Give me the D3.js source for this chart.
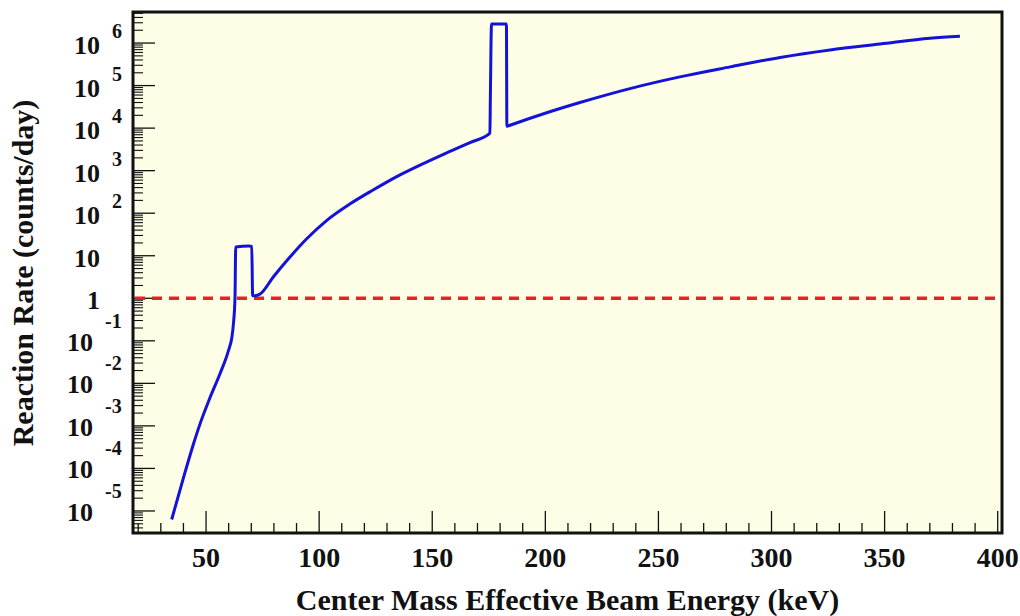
<!DOCTYPE html>
<html>
<head>
<meta charset="utf-8">
<script src="https://cdn.jsdelivr.net/npm/d3@7"></script>
<style>
  body { margin: 0; background: #fff; }
  text { font-family: "Liberation Serif", "Times New Roman", serif; font-weight: bold; fill: #111; }
</style>
</head>
<body>
<div id="chart"></div>
<script>
// values
var energy = [34.8, 40.0, 44.4, 47.3, 51.8, 56.2, 59.9, 61.4, 62.1, 62.8,
              63.1, 69.0, 70.2, 70.6, 71.7, 73.9, 79.8, 87.1, 94.5, 103.4,
              113.7, 124.0, 134.3, 144.6, 156.4, 166.7, 175.5, 175.7, 176.2, 182.8,
              183.0, 184.4, 200.6, 215.3, 237.4, 259.5, 281.7, 303.8, 325.9, 348.0,
              370.1, 383.3];
var rate = [6.3e-6, 6.0e-5, 3.7e-4, 1.1e-3, 4.7e-3, 0.017, 0.059, 0.12, 0.25, 1.05,
            16, 17, 16.5, 1.15, 1.15, 1.26, 3.2, 9.3, 25, 68,
            166, 355, 725, 1350, 2630, 4570, 7600, 54000, 2.8e6, 2.8e6,
            11000, 11700, 23000, 40000, 85000, 1.6e5, 2.75e5, 4.6e5, 6.9e5, 9.5e5,
            1.3e6, 1.45e6];
var xTicks = [50, 100, 150, 200, 250, 300, 350, 400];
var yTickExps = [-5, -4, -3, -2, -1, 0, 1, 2, 3, 4, 5, 6];
var threshold = 1;
var xDomain = [17.7, 401.9];
var yDomain = [Math.pow(10, -5.518), Math.pow(10, 6.73)];

var W = 1020, H = 616;
var box = {left: 133, right: 1002, top: 12, bottom: 533};

var svg = d3.select('#chart').append('svg')
    .attr('width', W)
    .attr('height', H);

var x = d3.scaleLinear().domain(xDomain).range([box.left, box.right]);
var y = d3.scaleLog().domain(yDomain).range([box.bottom, box.top]);

// plot background
svg.append('rect')
    .attr('x', box.left).attr('y', box.top)
    .attr('width', box.right - box.left).attr('height', box.bottom - box.top)
    .attr('fill', '#fefde6');

// x ticks (major + minor every 10)
var xMinor = d3.range(20, 401, 10);
svg.append('g').selectAll('line')
    .data(xMinor)
    .enter().append('line')
    .attr('x1', function(d) { return x(d); })
    .attr('x2', function(d) { return x(d); })
    .attr('y1', box.bottom)
    .attr('y2', function(d) { return box.bottom - (d % 50 === 0 ? 22 : 10); })
    .attr('stroke', '#111')
    .attr('stroke-width', 1.3);

svg.append('g').selectAll('text')
    .data(xTicks)
    .enter().append('text')
    .attr('x', function(d) { return x(d); })
    .attr('y', 567)
    .attr('text-anchor', 'middle')
    .style('font-size', '28px')
    .text(function(d) { return d; });

// y ticks (log, minor 2..9)
var yMinor = [];
for (var e = -6; e <= 6; e++) {
    for (var m = 2; m <= 9; m++) {
        var v = m * Math.pow(10, e);
        if (v >= yDomain[0] && v <= yDomain[1]) yMinor.push(v);
    }
}
svg.append('g').selectAll('line')
    .data(yMinor)
    .enter().append('line')
    .attr('x1', box.left)
    .attr('x2', box.left + 10)
    .attr('y1', function(d) { return y(d); })
    .attr('y2', function(d) { return y(d); })
    .attr('stroke', '#111')
    .attr('stroke-width', 1.1);

svg.append('g').selectAll('line')
    .data(yTickExps)
    .enter().append('line')
    .attr('x1', box.left)
    .attr('x2', box.left + 22)
    .attr('y1', function(d) { return y(Math.pow(10, d)); })
    .attr('y2', function(d) { return y(Math.pow(10, d)); })
    .attr('stroke', '#111')
    .attr('stroke-width', 1.3);

var yLab = svg.append('g').selectAll('g')
    .data(yTickExps)
    .enter().append('g')
    .attr('transform', function(d) { return 'translate(0,' + y(Math.pow(10, d)) + ')'; });

yLab.append('text')
    .attr('x', function(d) { return d < 0 ? 93 : 100; })
    .attr('y', function(d) { return d < 0 ? 10 : 11; })
    .attr('text-anchor', 'end')
    .style('font-size', '26px')
    .text(function(d) { return d === 0 ? '1' : '10'; });

yLab.filter(function(d) { return d < 0 || d > 1; })
    .append('text')
    .attr('x', function(d) { return d < 0 ? 105 : 112; })
    .attr('y', function(d) { return d < 0 ? -13 : -5; })
    .attr('text-anchor', 'start')
    .style('font-size', '20px')
    .text(function(d) { return d; });

// threshold line at 1 count/day
svg.append('line')
    .attr('x1', box.left + 2).attr('x2', box.right - 2)
    .attr('y1', y(threshold)).attr('y2', y(threshold))
    .attr('stroke', '#e8202a')
    .attr('stroke-width', 3.5)
    .attr('stroke-dasharray', '10,7');

// reaction rate curve
var pts = energy.map(function(d, i) { return [d, rate[i]]; });
var line = d3.line()
    .curve(d3.curveMonotoneX)
    .x(function(d) { return x(d[0]); })
    .y(function(d) { return y(d[1]); });

svg.append('path')
    .attr('d', line(pts))
    .attr('fill', 'none')
    .attr('stroke', '#1212d8')
    .attr('stroke-width', 3)
    .attr('stroke-linejoin', 'round');

// frame
svg.append('rect')
    .attr('x', box.left).attr('y', box.top)
    .attr('width', box.right - box.left).attr('height', box.bottom - box.top)
    .attr('fill', 'none')
    .attr('stroke', '#111')
    .attr('stroke-width', 3);

// axis titles
svg.append('text')
    .attr('x', (box.left + box.right) / 2)
    .attr('y', 610)
    .attr('text-anchor', 'middle')
    .style('font-size', '30px')
    .text('Center Mass Effective Beam Energy (keV)');

svg.append('text')
    .attr('transform', 'translate(33,273)rotate(-90)')
    .attr('text-anchor', 'middle')
    .style('font-size', '30px')
    .text('Reaction Rate (counts/day)');
</script>
</body>
</html>
